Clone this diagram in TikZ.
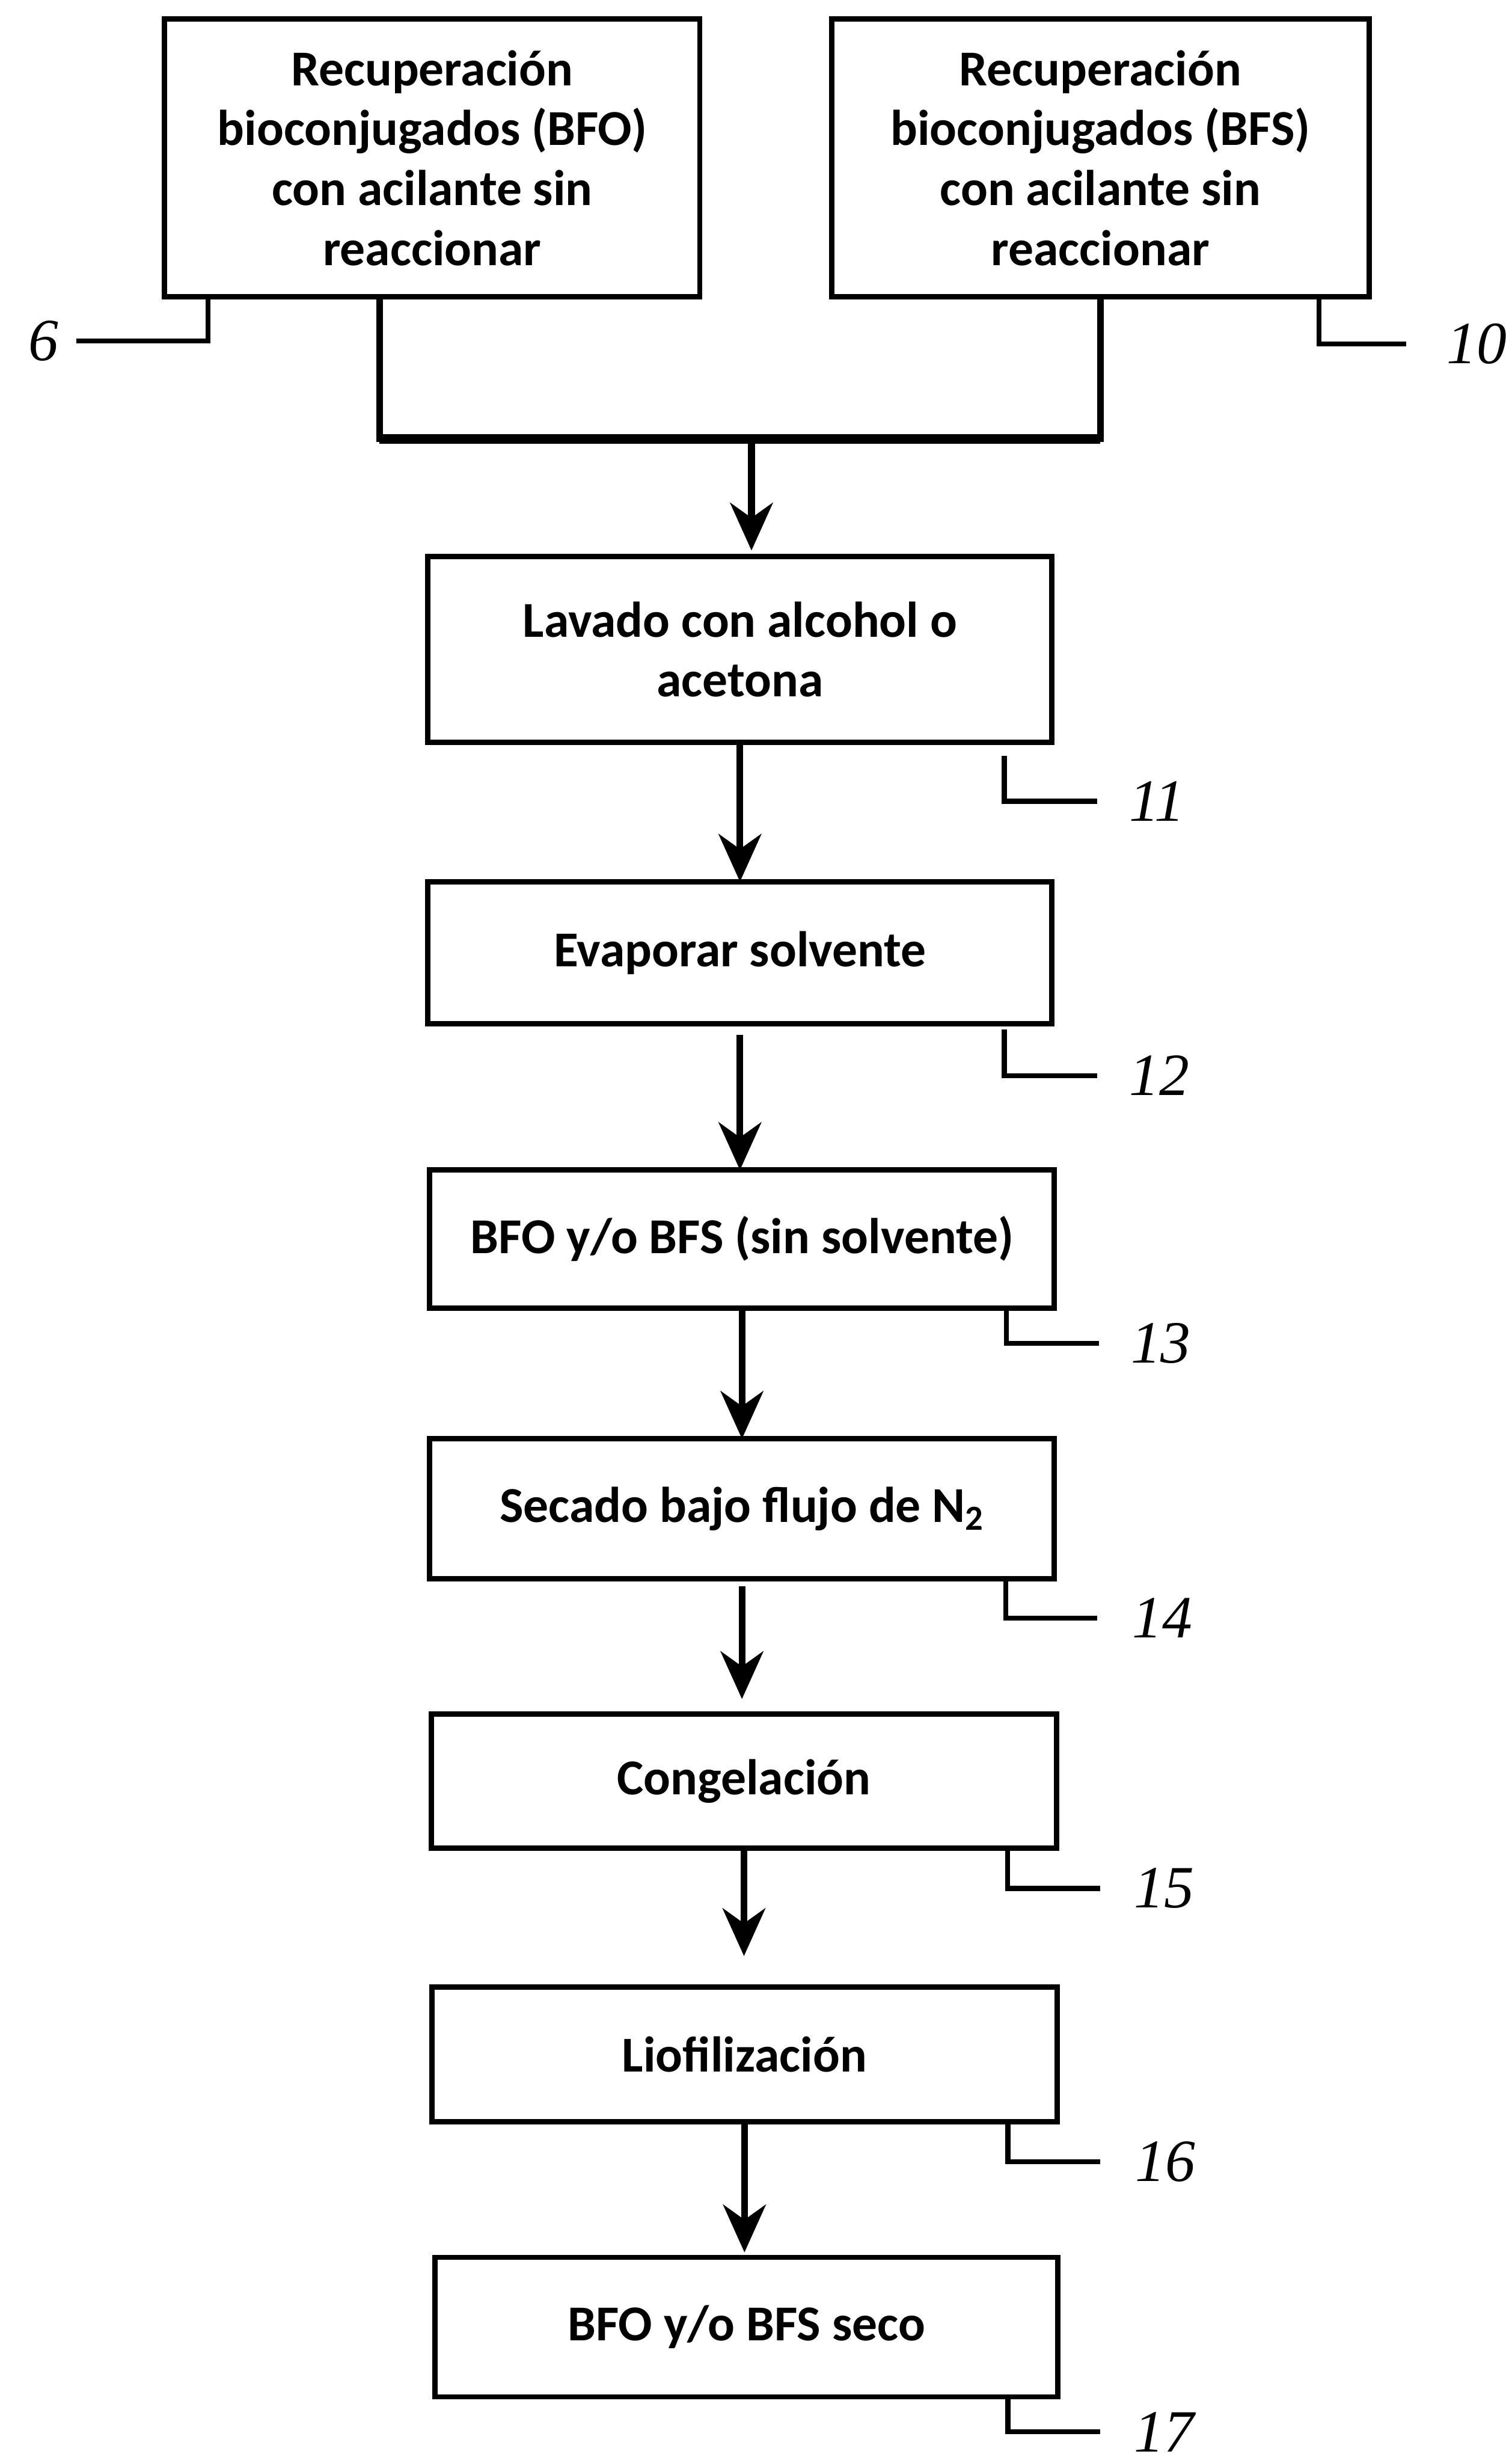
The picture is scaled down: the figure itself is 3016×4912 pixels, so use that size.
\documentclass[tikz,border=0pt]{standalone}
\usepackage{fontspec}
\setmainfont{Carlito}
\newfontfamily\numfont{Liberation Serif}
\usetikzlibrary{arrows.meta,calc}
\begin{document}
\begin{tikzpicture}[x=0.01cm,y=-0.01cm,
  box/.style={draw,line width=3pt,inner sep=0pt,outer sep=0pt,align=center,
    font=\fontsize{28.5}{34}\selectfont\bfseries},
  num/.style={inner sep=0pt,font=\numfont\itshape\fontsize{34}{40}\selectfont},
  conn/.style={line width=3.8pt},
  arr/.style={line width=3.8pt,-{Stealth[length=0.95cm,width=0.85cm,inset=0.3cm]}},
  hook/.style={line width=2.8pt}]
\fill[white] (0,0) rectangle (3016,4912);
\useasboundingbox (0,0) rectangle (3016,4912);

% top boxes
\node[box,minimum width=10.67cm,minimum height=5.54cm] (tl) at (862,315)
  {Recuperación\\bioconjugados (BFO)\\con acilante sin\\reaccionar};
\node[box,minimum width=10.71cm,minimum height=5.54cm] (tr) at (2195,315)
  {Recuperación\\bioconjugados (BFS)\\con acilante sin\\reaccionar};

% process boxes
\node[box,minimum width=12.44cm,minimum height=3.70cm] (b1) at (1476,1295)
  {Lavado con alcohol o\\acetona};
\node[box,minimum width=12.44cm,minimum height=2.83cm] (b2) at (1476,1900)
  {Evaporar solvente};
\node[box,minimum width=12.45cm,minimum height=2.75cm] (b3) at (1480,2471)
  {BFO y/o BFS (sin solvente)};
\node[box,minimum width=12.45cm,minimum height=2.79cm] (b4) at (1480,3009)
  {Secado bajo flujo de N\textsubscript{2}};
\node[box,minimum width=12.47cm,minimum height=2.67cm] (b5) at (1484,3552)
  {Congelación};
\node[box,minimum width=12.46cm,minimum height=2.68cm] (b6) at (1485,4097)
  {Liofilización};
\node[box,minimum width=12.42cm,minimum height=2.78cm] (b7) at (1489,4641)
  {BFO y/o BFS seco};

% reference numbers
\node[num,anchor=east] (n6) at (117,680) {6};
\node[num,anchor=west] (n10) at (2885,686) {10};
\node[num,anchor=west] (n11) at (2252,1598) {11};
\node[num,anchor=west] (n12) at (2252,2145) {12};
\node[num,anchor=west] (n13) at (2255,2679) {13};
\node[num,anchor=west] (n14) at (2258,3227) {14};
\node[num,anchor=west] (n15) at (2262,3766) {15};
\node[num,anchor=west] (n16) at (2264,4311) {16};
\node[num,anchor=west] (n17) at (2262,4850) {17};

% merging connector
\coordinate (merge) at (1499,875);
\coordinate (ld) at ($(tl.south west)+(429,0)$);
\draw[conn] (ld) |- (merge) -| (tr.south);
\draw[line width=5.5pt] (ld |- merge) -- (tr.south |- merge);
\draw[arr,shorten >=0.12cm] (merge) -- (merge |- b1.north);

% arrows
\draw[arr] (b1.south) -- (b1.south |- b2.north);
\draw[arr,shorten <=0.22cm] (b2.south) -- (b2.south |- b3.north);
\draw[arr] (b3.south) -- (b3.south |- b4.north);
\draw[arr,shorten <=0.15cm,shorten >=0.3cm] (b4.south) -- (b4.south |- b5.north);
\draw[arr,shorten >=0.62cm] (b5.south) -- (b5.south |- b6.north);
\draw[arr,shorten >=0.1cm] (b6.south) -- (b6.south |- b7.north);

% leader hooks
\draw[hook] ($(tl.south west)+(87,0)$) |- ($(n6.east)+(35,0)$);
\draw[hook] ($(tr.south east)+(-100,0)$) |- ($(n10.west)+(-80,0)$);
\draw[hook,shorten <=0.27cm] ($(b1.south east)+(-95,0)$) |- ($(n11.west)+(-63,0)$);
\draw[hook,shorten <=0.11cm] ($(b2.south east)+(-95,0)$) |- ($(n12.west)+(-63,0)$);
\draw[hook] ($(b3.south east)+(-95,0)$) |- ($(n13.west)+(-63,0)$);
\draw[hook] ($(b4.south east)+(-97,0)$) |- ($(n14.west)+(-70,0)$);
\draw[hook] ($(b5.south east)+(-98,0)$) |- ($(n15.west)+(-68,0)$);
\draw[hook] ($(b6.south east)+(-98,0)$) |- ($(n16.west)+(-70,0)$);
\draw[hook] ($(b7.south east)+(-100,0)$) |- ($(n17.west)+(-68,0)$);
\end{tikzpicture}
\end{document}
